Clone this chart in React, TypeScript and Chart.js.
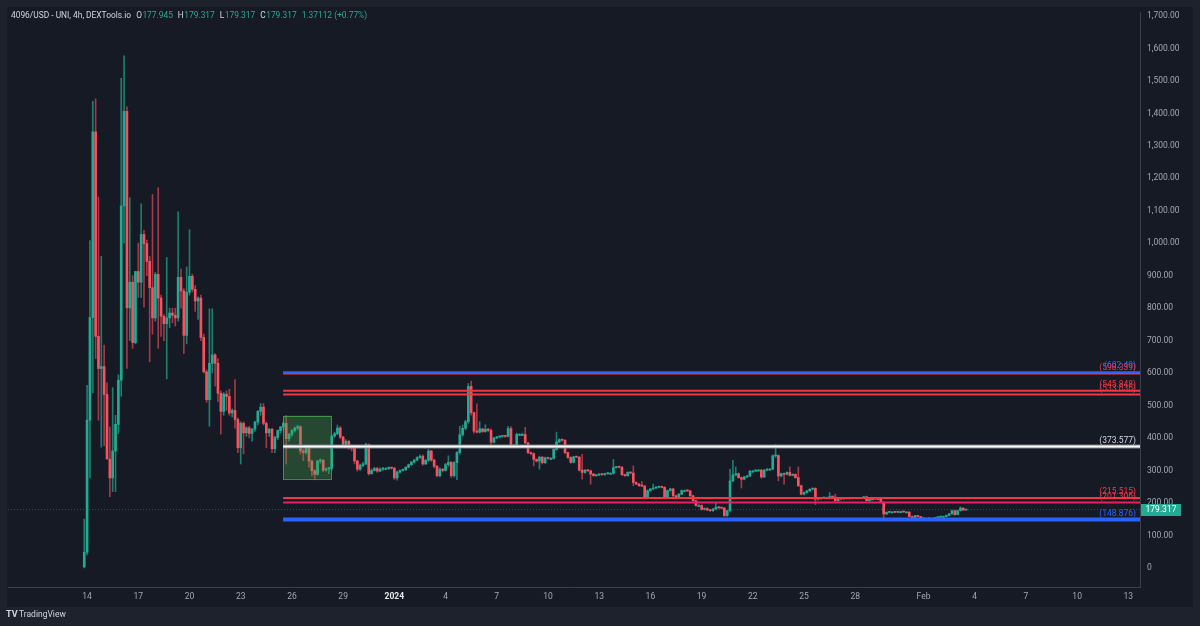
import React, { useEffect, useRef } from "react";
import { Chart, registerables } from "chart.js";

Chart.register(...registerables);

// 4h candles; bar index 0 = Dec 14 00:00, one unit = one 4h bar
const firstBarIndex = -1;
// [open, high, low, close]
const ohlc: [number, number, number, number][] = [
  [3, 150, 0, 48],
  [48, 562, 40, 455], [455, 1008, 277, 771], [771, 1437, 540, 1343], [1343, 1445, 644, 713], [713, 1142, 455, 614],
  [614, 960, 372, 620], [620, 686, 376, 534], [534, 570, 376, 335], [335, 434, 219, 277], [277, 555, 235, 360],
  [360, 470, 235, 442], [442, 595, 413, 578], [578, 1508, 529, 1115], [1115, 1577, 1000, 1406], [1406, 1420, 614, 801],
  [801, 1140, 700, 880], [880, 900, 676, 694], [694, 913, 690, 913], [913, 1000, 833, 880], [880, 1121, 833, 1027],
  [1027, 1040, 803, 999], [999, 1010, 900, 944], [944, 960, 635, 863], [863, 1150, 720, 770], [770, 910, 760, 904],
  [904, 1171, 676, 831], [831, 840, 713, 775], [775, 780, 700, 752], [752, 956, 582, 770], [770, 800, 740, 785],
  [785, 800, 755, 778], [778, 800, 745, 770], [770, 1097, 760, 895], [895, 920, 800, 853], [853, 860, 660, 716],
  [716, 927, 690, 849], [849, 1042, 840, 898], [898, 905, 850, 858], [858, 870, 790, 822], [822, 835, 765, 831],
  [831, 840, 700, 710], [710, 720, 600, 604], [604, 610, 510, 518], [518, 798, 436, 630], [630, 798, 600, 656],
  [656, 660, 560, 630], [630, 645, 513, 538], [538, 545, 412, 482], [482, 540, 470, 535], [535, 545, 485, 528],
  [528, 550, 470, 477], [477, 490, 465, 485], [485, 580, 430, 457], [457, 462, 355, 370], [370, 450, 320, 445],
  [445, 450, 351, 416], [416, 435, 405, 431], [431, 436, 400, 414], [414, 430, 390, 427], [427, 452, 420, 449],
  [449, 485, 440, 482], [482, 506, 470, 495], [495, 506, 440, 445], [445, 450, 370, 416], [416, 430, 405, 427],
  [427, 430, 355, 367], [367, 405, 355, 401], [401, 425, 395, 423], [423, 436, 415, 434], [434, 450, 425, 445],
  [445, 469, 320, 398], [398, 415, 390, 411], [411, 426, 405, 423], [423, 434, 418, 431], [431, 440, 425, 435],
  [435, 438, 350, 360], [360, 365, 330, 355], [355, 378, 350, 372], [372, 375, 310, 329], [329, 332, 283, 299],
  [299, 303, 271, 288], [288, 332, 285, 329], [329, 336, 322, 331], [331, 334, 296, 301], [301, 308, 298, 305],
  [305, 310, 290, 307], [307, 410, 300, 406], [406, 418, 402, 413], [413, 440, 410, 431], [431, 435, 398, 403],
  [403, 405, 375, 380], [380, 395, 370, 390], [390, 392, 365, 370], [370, 378, 360, 368], [368, 378, 320, 329],
  [329, 332, 298, 304], [304, 320, 300, 316], [316, 325, 312, 320], [320, 384, 318, 380], [380, 382, 285, 290],
  [290, 305, 288, 300], [300, 310, 298, 306], [306, 310, 294, 298], [298, 308, 296, 304], [304, 310, 300, 306],
  [306, 309, 302, 306], [306, 311, 303, 308], [308, 310, 304, 307], [307, 310, 272, 277], [277, 298, 270, 295],
  [295, 302, 292, 300], [300, 305, 298, 302], [302, 312, 300, 310], [310, 320, 308, 318], [318, 328, 315, 326],
  [326, 334, 323, 332], [332, 342, 330, 340], [340, 348, 337, 344], [344, 348, 316, 320], [320, 334, 318, 331],
  [331, 365, 328, 360], [360, 362, 328, 332], [332, 335, 308, 313], [313, 316, 280, 284], [284, 308, 280, 304],
  [304, 306, 296, 300], [300, 322, 298, 318], [318, 345, 312, 325], [325, 328, 278, 284], [284, 327, 280, 324],
  [324, 358, 272, 355], [355, 436, 350, 410], [410, 440, 405, 430], [430, 455, 425, 450], [450, 568, 445, 559],
  [559, 575, 470, 478], [478, 480, 415, 421], [421, 505, 416, 418], [418, 450, 415, 428], [428, 430, 417, 420],
  [420, 441, 418, 427], [427, 430, 420, 423], [423, 428, 380, 387], [387, 402, 385, 400], [400, 405, 398, 403],
  [403, 407, 400, 405], [405, 408, 402, 406], [406, 408, 402, 405], [405, 436, 403, 429], [429, 435, 370, 375],
  [375, 380, 372, 378], [378, 415, 375, 411], [411, 414, 408, 411], [411, 415, 407, 411], [411, 433, 383, 385],
  [385, 387, 352, 355], [355, 357, 348, 352], [352, 354, 314, 334], [334, 336, 326, 329], [329, 344, 304, 341],
  [341, 343, 320, 324], [324, 341, 322, 339], [339, 341, 335, 337], [337, 340, 334, 337], [337, 367, 335, 365],
  [365, 418, 362, 388], [388, 398, 386, 395], [395, 397, 390, 393], [393, 395, 352, 355], [355, 357, 337, 340],
  [340, 342, 322, 325], [325, 344, 323, 342], [342, 344, 339, 341], [341, 343, 298, 301], [301, 350, 273, 294],
  [294, 303, 292, 301], [301, 303, 297, 299], [299, 301, 258, 289], [289, 291, 282, 284], [284, 288, 282, 286],
  [286, 290, 284, 288], [288, 290, 285, 287], [287, 292, 285, 290], [290, 293, 288, 291], [291, 293, 289, 291],
  [291, 334, 289, 309], [309, 313, 307, 311], [311, 313, 308, 310], [310, 312, 285, 287], [287, 289, 282, 284],
  [284, 296, 282, 294], [294, 296, 290, 292], [292, 314, 253, 263], [263, 265, 256, 258], [258, 260, 251, 253],
  [253, 266, 250, 252], [252, 254, 213, 215], [215, 240, 213, 238], [238, 245, 236, 243], [243, 258, 241, 246],
  [246, 250, 244, 248], [248, 252, 246, 250], [250, 252, 246, 248], [248, 250, 215, 217], [217, 240, 215, 238],
  [238, 245, 236, 243], [243, 245, 220, 222], [222, 224, 215, 217], [217, 229, 215, 227], [227, 240, 225, 238],
  [238, 240, 236, 238], [238, 240, 235, 237], [237, 239, 220, 222], [222, 224, 205, 207], [207, 209, 190, 192],
  [192, 195, 190, 192], [192, 194, 178, 180], [180, 185, 178, 183], [183, 185, 176, 178], [178, 180, 174, 176],
  [176, 183, 174, 181], [181, 199, 179, 186], [186, 188, 182, 185], [185, 187, 182, 184], [184, 186, 158, 161],
  [161, 178, 159, 176], [176, 304, 172, 268], [268, 331, 265, 286], [286, 311, 283, 290], [290, 292, 276, 278],
  [278, 280, 246, 273], [273, 282, 271, 280], [280, 285, 278, 283], [283, 300, 281, 298], [298, 300, 295, 298],
  [298, 303, 296, 301], [301, 304, 299, 301], [301, 304, 276, 280], [280, 303, 278, 301], [301, 306, 299, 304],
  [304, 306, 302, 304], [304, 348, 302, 345], [345, 380, 340, 346], [346, 348, 268, 283], [283, 292, 280, 290],
  [290, 292, 258, 288], [288, 296, 286, 294], [294, 311, 283, 285], [285, 290, 283, 288], [288, 290, 276, 278],
  [278, 311, 250, 253], [253, 255, 225, 227], [227, 234, 225, 232], [232, 239, 230, 237], [237, 244, 235, 242],
  [242, 247, 240, 245], [245, 247, 195, 212], [212, 216, 209, 214], [214, 217, 211, 215], [215, 218, 213, 216],
  [216, 218, 213, 214], [214, 232, 212, 219], [219, 221, 216, 218], [218, 227, 204, 207], [207, 214, 205, 212],
  [212, 215, 210, 213], [213, 215, 211, 214], [214, 216, 212, 213], [213, 215, 211, 214], [214, 216, 212, 215],
  [215, 217, 213, 214], [214, 216, 212, 215], [215, 217, 213, 214], [214, 220, 213, 219], [219, 221, 205, 207],
  [207, 213, 205, 212], [212, 214, 210, 212], [212, 214, 210, 213], [213, 215, 211, 213], [213, 215, 200, 202],
  [202, 204, 154, 166], [166, 173, 164, 171], [171, 174, 169, 172], [172, 174, 170, 172], [172, 174, 170, 171],
  [171, 175, 170, 173], [173, 175, 171, 173], [173, 175, 171, 172], [172, 174, 170, 172], [172, 173, 156, 158],
  [158, 160, 152, 154], [154, 162, 152, 161], [161, 162, 156, 158], [158, 159, 152, 154], [154, 156, 149, 151],
  [151, 153, 149, 151], [151, 153, 149, 152], [152, 154, 150, 152], [152, 156, 151, 154], [154, 158, 153, 156],
  [156, 160, 155, 158], [158, 160, 156, 158], [158, 163, 157, 161], [161, 168, 160, 166], [166, 178, 165, 176],
  [176, 178, 162, 164], [164, 178, 163, 176], [176, 188, 175, 184], [184, 185, 177, 178], [177.945, 179.317, 177.945, 179.317],
];

const timeTickIndex = [0, 18, 36, 54, 72, 90, 108, 126, 144, 162, 180, 198, 216, 234, 252, 270, 294, 312, 330, 348, 366];
const timeTickLabel = ["14", "17", "20", "23", "26", "29", "2024", "4", "7", "10", "13", "16", "19", "22", "25", "28", "Feb", "4", "7", "10", "13"];
const boldTimeLabels = ["2024"];
const priceTicks = [0, 100, 200, 300, 400, 500, 600, 700, 800, 900, 1000, 1100, 1200, 1300, 1400, 1500, 1600, 1700];

const levelPrices = [602.49, 598.339, 545.848, 533.636, 373.577, 215.515, 201.306, 148.876];
const levelTexts = ["(602.49)", "(598.339)", "(545.848)", "(533.636)", "(373.577)", "(215.515)", "(201.306)", "(148.876)"];
const levelColors = ["#2962ff", "#f23645", "#f23645", "#f23645", "#ffffff", "#f23645", "#e91e63", "#2962ff"];
const levelTextColors = ["#2962ff", "#f23645", "#f23645", "#f23645", "#d1d4dc", "#f23645", "#f23645", "#2962ff"];
const levelWidths = [2, 2, 2, 2, 2, 2, 2, 4];
const levelStartBar = 68.9;

const zoneBars = [68.9, 85.8];
const zonePrices = [274, 469];

const lastPrice = 179.317;
const headerTitle = "4096/USD - UNI, 4h, DEXTools.io";
const headerKeys = ["O", "H", "L", "C"];
const headerVals = ["177.945", "179.317", "179.317", "179.317"];
const headerChange = "1.37112 (+0.77%)";

const X_MIN = -27.8;
const X_MAX = 370.1;
const Y_MIN = -59;
const Y_MAX = 1712;

const OUTER = "#1e222d";
const PANE = "#161a25";
const UP = "#22ab94";
const DOWN = "#f7525f";
const UP_WICK = "#1f7d6e";
const DOWN_WICK = "#a43846";
const AXIS_LINE = "#3a3e4a";
const TEXT = "#d1d4dc";
const AXIS_TEXT = "#a3a6af";
const FONT = "Roboto, 'Noto Sans', sans-serif";

const tvPlugin = {
  id: "tvDecor",
  beforeDraw(chart: any) {
    const { ctx, width, height } = chart;
    ctx.save();
    ctx.fillStyle = OUTER;
    ctx.fillRect(0, 0, width, height);
    ctx.fillStyle = PANE;
    ctx.fillRect(7, 7, 1186, 600);
    ctx.restore();
  },
  afterDatasetDraw(chart: any, args: any) {
    if (args.index !== 1) return;
    const { ctx } = chart;
    const x = chart.scales.x;
    const y = chart.scales.y;
    const x0 = x.getPixelForValue(zoneBars[0]);
    const x1 = x.getPixelForValue(zoneBars[1]);
    const y0 = y.getPixelForValue(zonePrices[1]);
    const y1 = y.getPixelForValue(zonePrices[0]);
    ctx.save();
    ctx.fillStyle = "rgba(76,175,80,0.30)";
    ctx.fillRect(x0, y0, x1 - x0, y1 - y0);
    ctx.strokeStyle = "rgba(76,175,80,0.75)";
    ctx.lineWidth = 1;
    ctx.strokeRect(Math.round(x0) + 0.5, Math.round(y0) + 0.5, Math.round(x1 - x0), Math.round(y1 - y0));
    ctx.restore();
  },
  afterDraw(chart: any) {
    const { ctx, chartArea } = chart;
    const y = chart.scales.y;
    ctx.save();
    // level labels
    ctx.font = `8.5px ${FONT}`;
    ctx.textAlign = "right";
    ctx.textBaseline = "middle";
    levelPrices.forEach((p, i) => {
      ctx.fillStyle = levelTextColors[i];
      ctx.fillText(levelTexts[i], chartArea.right - 4, y.getPixelForValue(p) - 6);
    });
    // last price box
    const py = y.getPixelForValue(lastPrice);
    ctx.fillStyle = UP;
    ctx.fillRect(chartArea.right + 1, Math.round(py) - 6, 40, 12);
    ctx.fillStyle = "#ffffff";
    ctx.textAlign = "center";
    ctx.fillText(lastPrice.toFixed(3), chartArea.right + 21, py);
    // header legend
    ctx.textAlign = "left";
    ctx.font = `8.4px ${FONT}`;
    const hy = 16;
    let hx = 11;
    ctx.fillStyle = TEXT;
    ctx.fillText(headerTitle, hx, hy);
    hx += ctx.measureText(headerTitle).width + 5;
    headerKeys.forEach((k, i) => {
      ctx.fillStyle = TEXT;
      ctx.fillText(k, hx, hy);
      hx += ctx.measureText(k).width + 0.5;
      ctx.fillStyle = UP;
      ctx.fillText(headerVals[i], hx, hy);
      hx += ctx.measureText(headerVals[i]).width + 5;
    });
    ctx.fillStyle = UP;
    ctx.fillText(headerChange, hx, hy);
    // footer logo
    ctx.fillStyle = TEXT;
    ctx.font = `bold 9px ${FONT}`;
    ctx.fillText("TV", 6, 615);
    ctx.font = `8.5px ${FONT}`;
    ctx.fillText("TradingView", 19, 615);
    ctx.restore();
  },
};

export default function App() {
  const ref = useRef<HTMLCanvasElement>(null);

  useEffect(() => {
    document.body.style.margin = "0";
    document.body.style.background = OUTER;
    document.body.style.overflow = "hidden";
    const canvas = ref.current;
    if (!canvas) return;

    const isUp = (c: number[]) => c[3] >= c[0];
    const xs = ohlc.map((_, i) => i + firstBarIndex);

    const datasets: any[] = [
      {
        type: "bar",
        label: "wicks",
        data: ohlc.map((c, i) => ({ x: xs[i], y: [c[2], c[1]] })),
        backgroundColor: ohlc.map((c) => (isUp(c) ? UP_WICK : DOWN_WICK)),
        barThickness: 1,
        grouped: false,
        borderWidth: 0,
        order: 10,
      },
      {
        type: "bar",
        label: "bodies",
        data: ohlc.map((c, i) => ({ x: xs[i], y: [Math.min(c[0], c[3]), Math.max(c[0], c[3])] })),
        backgroundColor: ohlc.map((c) => (isUp(c) ? UP : DOWN)),
        barThickness: 2,
        minBarLength: 1,
        grouped: false,
        borderWidth: 0,
        order: 9,
      },
      {
        type: "line",
        label: "last",
        data: [
          { x: X_MIN, y: lastPrice },
          { x: X_MAX, y: lastPrice },
        ],
        borderColor: "rgba(34,171,148,0.45)",
        borderWidth: 1,
        borderDash: [1, 2],
        pointRadius: 0,
        order: 5,
      },
    ];

    levelPrices.forEach((p, i) => {
      if (levelColors[i] === "#ffffff") {
        datasets.push({
          type: "line",
          label: "halo" + i,
          data: [
            { x: levelStartBar, y: p },
            { x: X_MAX, y: p },
          ],
          borderColor: "#7d808a",
          borderWidth: 4,
          pointRadius: 0,
          order: 3,
        });
      }
      datasets.push({
        type: "line",
        label: "level" + i,
        data: [
          { x: levelStartBar, y: p },
          { x: X_MAX, y: p },
        ],
        borderColor: levelColors[i],
        borderWidth: levelWidths[i],
        pointRadius: 0,
        order: i === 0 ? 0 : 1,
      });
    });

    const chart = new Chart(canvas, {
      type: "bar",
      data: { datasets },
      options: {
        responsive: false,
        animation: false,
        events: [],
        layout: { padding: { left: 8, top: 8, right: 7, bottom: 19 } },
        plugins: {
          legend: { display: false },
          tooltip: { enabled: false },
          title: { display: false },
        },
        scales: {
          x: {
            type: "linear",
            min: X_MIN,
            max: X_MAX,
            offset: false,
            bounds: "data",
            grid: { display: false, drawTicks: false },
            border: { display: true, color: AXIS_LINE, width: 1 },
            afterBuildTicks: (s: any) => {
              s.ticks = timeTickIndex.map((v) => ({ value: v }));
            },
            afterFit: (s: any) => {
              s.height = 20;
            },
            ticks: {
              autoSkip: false,
              maxRotation: 0,
              padding: 5,
              callback: (v: any) => {
                const k = timeTickIndex.indexOf(Number(v));
                return k >= 0 ? timeTickLabel[k] : "";
              },
              color: (c: any) => {
                const k = timeTickIndex.indexOf(c.tick?.value);
                return k >= 0 && boldTimeLabels.includes(timeTickLabel[k]) ? "#e6e8ee" : AXIS_TEXT;
              },
              font: (c: any) => {
                const k = timeTickIndex.indexOf(c.tick?.value);
                const bold = k >= 0 && boldTimeLabels.includes(timeTickLabel[k]);
                return { family: FONT, size: 8.5, weight: bold ? "bold" : "normal" };
              },
            },
          },
          y: {
            type: "linear",
            position: "right",
            min: Y_MIN,
            max: Y_MAX,
            bounds: "data",
            grid: { display: false, drawTicks: false },
            border: { display: true, color: AXIS_LINE, width: 1 },
            afterBuildTicks: (s: any) => {
              s.ticks = priceTicks.map((v) => ({ value: v }));
            },
            afterFit: (s: any) => {
              s.width = 53;
            },
            ticks: {
              autoSkip: false,
              padding: 7,
              color: AXIS_TEXT,
              font: { family: FONT, size: 8.5 },
              callback: (v: any) =>
                Number(v) === 0
                  ? "0"
                  : Number(v).toLocaleString("en-US", { minimumFractionDigits: 2, maximumFractionDigits: 2 }),
            },
          },
        },
      } as any,
      plugins: [tvPlugin],
    });

    return () => chart.destroy();
  }, []);

  return (
    <div style={{ width: 1200, height: 626, background: OUTER }}>
      <canvas ref={ref} width={1200} height={626} style={{ display: "block" }} />
    </div>
  );
}
